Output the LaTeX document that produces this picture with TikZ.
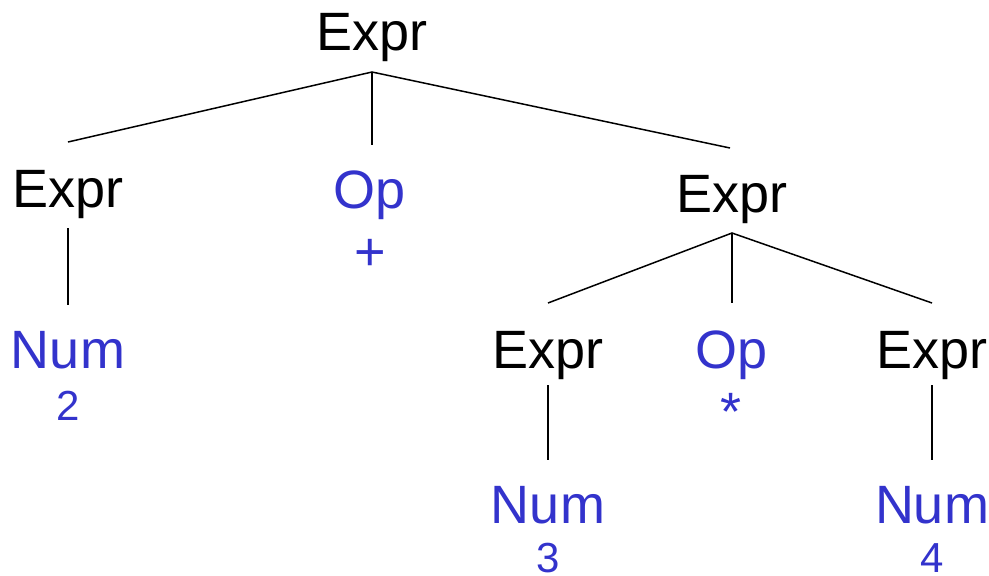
\documentclass[tikz,border=0pt]{standalone}
\usepackage{fontspec}
\setmainfont{Liberation Sans}
\definecolor{termblue}{RGB}{51,51,204}
\begin{document}
\begin{tikzpicture}[x=1pt,y=-1pt,
  cat/.style={anchor=base,inner sep=0pt,font=\fontsize{54}{60}\selectfont},
  term/.style={cat,text=termblue},
  leaf/.style={anchor=base,inner sep=0pt,text=termblue,font=\fontsize{42}{48}\selectfont},
  sym/.style={term},
  edge/.style={line width=1.5pt}]
\useasboundingbox (0,0) rectangle (989,576);

% top level
\node[cat] (root) at (372,50) {Expr};
\node[cat] (e1) at (68,207) {Expr};
\node[term] (op1) at (370,208) {Op};
\node[sym] (plus) at (370,270) {+};
\node[cat] (e2) at (732,212) {Expr};

% left branch
\node[term] (n2) at (68,368) {Num};
\node[leaf] (v2) at (68,420) {2};

% right sub-expression
\node[cat] (e3) at (548,368) {Expr};
\node[term] (op2) at (732,368) {Op};
\node[sym] (star) at (731,430) {*};
\node[cat] (e4) at (932,368) {Expr};
\node[term] (n3) at (548,523) {Num};
\node[leaf] (v3) at (548,572) {3};
\node[term] (n4) at (932,523) {Num};
\node[leaf] (v4) at (932,572) {4};

% connector end points
\coordinate (rootb) at (372,72);
\coordinate (e1t) at (68,142);
\coordinate (op1t) at (372,145);
\coordinate (e2t) at (730,148);
\coordinate (e1b) at (68,228);
\coordinate (n2t) at (68,305);
\coordinate (e2b) at (732,233);
\coordinate (e3t) at (548,303);
\coordinate (op2t) at (732,303);
\coordinate (e4t) at (932,303);
\coordinate (e3b) at (548,385);
\coordinate (n3t) at (548,460);
\coordinate (e4b) at (932,385);
\coordinate (n4t) at (932,460);

\draw[edge] (e1t) -- (rootb) -- (e2t);
\draw[edge] (rootb) -- (op1t);
\draw[edge] (e1b) -- (n2t);
\draw[edge] (e3t) -- (e2b) -- (e4t);
\draw[edge] (e2b) -- (op2t);
\draw[edge] (e3b) -- (n3t);
\draw[edge] (e4b) -- (n4t);
\end{tikzpicture}
\end{document}
